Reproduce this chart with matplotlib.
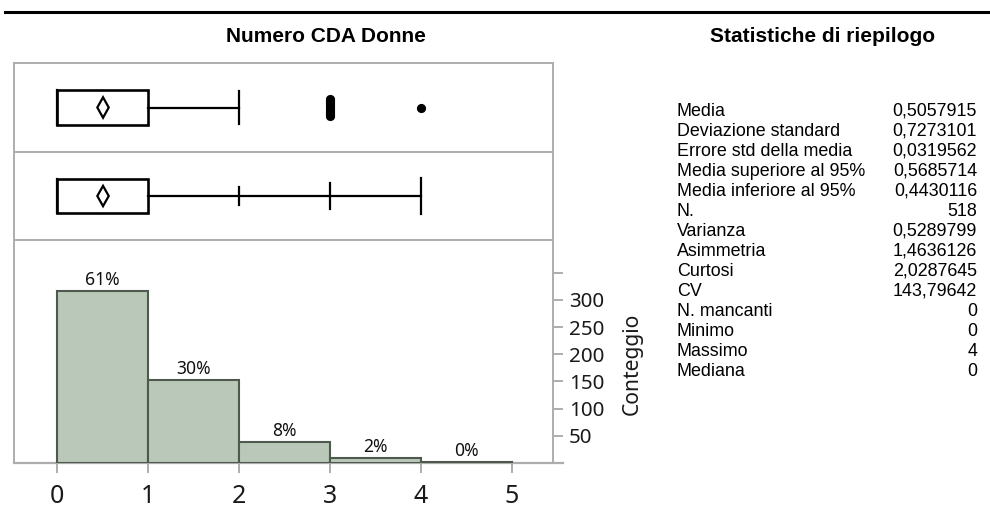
import numpy as np
import matplotlib
matplotlib.use("Agg")
import matplotlib.pyplot as plt
from matplotlib.patches import Rectangle, Polygon
from matplotlib.lines import Line2D

# ---- data -------------------------------------------------------------
title_left = "Numero CDA Donne"
title_right = "Statistiche di riepilogo"

bin_values = [0, 1, 2, 3, 4]          # observed values (bin left edges)
bin_counts = [316, 153, 39, 9, 1]     # frequency of each value

x_ticks = [0, 1, 2, 3, 4, 5]
y_ticks = [50, 100, 150, 200, 250, 300, 350]
y_tick_labels = ["50", "100", "150", "200", "250", "300", ""]
y_label = "Conteggio"

mean_value = 0.5057915
mean_ci_upper = 0.5685714
mean_ci_lower = 0.4430116

stat_names = ["Media", "Deviazione standard", "Errore std della media",
              "Media superiore al 95%", "Media inferiore al 95%", "N.",
              "Varianza", "Asimmetria", "Curtosi", "CV", "N. mancanti",
              "Minimo", "Massimo", "Mediana"]
stat_values = ["0,5057915", "0,7273101", "0,0319562", "0,5685714",
               "0,4430116", "518", "0,5289799", "1,4636126", "2,0287645",
               "143,79642", "0", "0", "4", "0"]

# ---- figure setup -----------------------------------------------------
W, H = 990, 509
fig = plt.figure(figsize=(W / 100, H / 100), dpi=100)
fig.patch.set_facecolor("white")

CHART_FONT = ["Noto Sans", "DejaVu Sans"]
TABLE_FONT = ["Liberation Sans", "DejaVu Sans"]
FRAME = "#adadad"
BAR_FACE = "#b9c8b9"
BAR_EDGE = "#4f5a4f"


def px_axes(x0, y0, x1, y1):
    return fig.add_axes([x0 / W, 1 - y1 / H, (x1 - x0) / W, (y1 - y0) / H])


# horizontal rule across the top
fig.add_artist(Line2D([5 / W, 1.0], [1 - 12 / H, 1 - 12 / H],
                      transform=fig.transFigure, color="black", lw=2.2))

fig.text(326 / W, 1 - 41.5 / H, title_left, ha="center", va="baseline",
         fontsize=15, fontweight="bold", family=TABLE_FONT)
fig.text(823 / W, 1 - 41.5 / H, title_right, ha="center", va="baseline",
         fontsize=15, fontweight="bold", family=TABLE_FONT)

# common horizontal scale: 0 at x=57px, 91px per unit
XL, XR = 14, 553
x_lo = (XL - 57) / 91
x_hi = (XR - 57) / 91

data = np.repeat(bin_values, bin_counts)
q1, med, q3 = np.quantile(data, [0.25, 0.5, 0.75], method="weibull")
iqr = q3 - q1
upper_whisker = data[data <= q3 + 1.5 * iqr].max()
outliers = data[(data > q3 + 1.5 * iqr) | (data < q1 - 1.5 * iqr)]

ax_box = px_axes(XL, 63, XR, 152)
ax_qnt = px_axes(XL, 152, XR, 240)
ax_hist = px_axes(XL, 240, XR, 463)

for a in (ax_box, ax_qnt):
    a.set_xlim(x_lo, x_hi)
    a.set_ylim(0, 1)
    a.set_xticks([])
    a.set_yticks([])
    for s in a.spines.values():
        s.set_color(FRAME)
        s.set_linewidth(1.4)

BOX_HALF = 0.195
LW = 1.6


def draw_box(a):
    a.add_patch(Rectangle((q1, 0.5 - BOX_HALF), q3 - q1, 2 * BOX_HALF,
                          fill=False, ec="black", lw=LW + 0.3))
    a.plot([med, med], [0.5 - BOX_HALF, 0.5 + BOX_HALF], color="black", lw=LW)
    dh = 0.115
    a.add_patch(Polygon([(mean_ci_lower, 0.5), (mean_value, 0.5 + dh),
                         (mean_ci_upper, 0.5), (mean_value, 0.5 - dh)],
                        closed=True, fill=False, ec="black", lw=LW))


# outlier box plot
draw_box(ax_box)
ax_box.plot([q3, upper_whisker], [0.5, 0.5], color="black", lw=LW)
ax_box.plot([upper_whisker, upper_whisker], [0.5 - 0.18, 0.5 + 0.18],
            color="black", lw=LW)
vals, cnts = np.unique(outliers, return_counts=True)
for v, c in zip(vals, cnts):
    offs = np.linspace(-1, 1, c) * 0.095 if c > 1 else np.zeros(1)
    ax_box.plot(np.full(c, v), 0.5 + offs, "o", color="black", ms=5.6,
                mec="black", ls="none")

# quantile box plot
draw_box(ax_qnt)
q_levels = [0.975, 0.995, 1.0]
q_halves = [0.10, 0.145, 0.20]
q_marks = np.quantile(data, q_levels, method="weibull")
ax_qnt.plot([q3, q_marks[-1]], [0.5, 0.5], color="black", lw=LW)
for qv, hh in zip(q_marks, q_halves):
    ax_qnt.plot([qv, qv], [0.5 - hh, 0.5 + hh], color="black", lw=LW)

# histogram
ax_hist.set_xlim(x_lo, x_hi)
ax_hist.set_ylim(0, 410)
ax_hist.bar(bin_values, bin_counts, width=1, align="edge",
            color=BAR_FACE, edgecolor=BAR_EDGE, linewidth=1.5, zorder=2)
total = sum(bin_counts)
for v, c in zip(bin_values, bin_counts):
    ax_hist.annotate(f"{round(100 * c / total)}%", (v + 0.5, c),
                     xytext=(0, 1.5), textcoords="offset points",
                     ha="center", va="bottom", fontsize=12.6,
                     family=CHART_FONT, color="#111111")

for s in ("top", "left", "right"):
    ax_hist.spines[s].set_color(FRAME)
    ax_hist.spines[s].set_linewidth(1.4)
ax_hist.spines["bottom"].set_visible(False)
# baseline runs slightly past the right axis
ax_hist.plot([0, 1 + 10 / (XR - XL)], [0, 0], transform=ax_hist.transAxes,
             color=FRAME, lw=1.6, clip_on=False, zorder=1)

ax_hist.set_xticks(x_ticks)
ax_hist.set_xticklabels([str(t) for t in x_ticks])
ax_hist.tick_params(axis="x", direction="out", length=7.5, width=1.4,
                    color=FRAME, pad=7.5, labelsize=18, labelcolor="#1a1a1a")
for lab in ax_hist.get_xticklabels():
    lab.set_family(CHART_FONT)

ax_hist.yaxis.tick_right()
ax_hist.set_yticks(y_ticks)
ax_hist.set_yticklabels(y_tick_labels)
ax_hist.tick_params(axis="y", direction="out", length=7.5, width=1.4,
                    color=FRAME, pad=4, labelsize=14.8, labelcolor="#1a1a1a")
for lab in ax_hist.get_yticklabels():
    lab.set_family(CHART_FONT)
ax_hist.text((632 - XL) / (XR - XL), (463 - 364) / (463 - 240), y_label,
             transform=ax_hist.transAxes, rotation=90, ha="center",
             va="center", fontsize=15.2, family=CHART_FONT, color="#1a1a1a")

# summary statistics table
for i, (name, val) in enumerate(zip(stat_names, stat_values)):
    yb = 1 - (115.7 + 20.0 * i) / H
    fig.text(677 / W, yb, name, ha="left", va="baseline", fontsize=12.9,
             family=TABLE_FONT, color="black")
    fig.text(977 / W, yb, val, ha="right", va="baseline", fontsize=12.9,
             family=TABLE_FONT, color="black")

fig.savefig("out.png", dpi=100, facecolor="white")
